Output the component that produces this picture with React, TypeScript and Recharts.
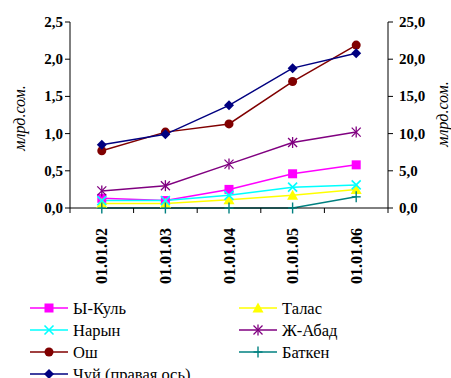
import React from "react";
import { LineChart, Line, XAxis, YAxis, Legend } from "recharts";

const categories = ["01.01.02", "01.01.03", "01.01.04", "01.01.05", "01.01.06"];
const issykKul = [0.13, 0.1, 0.25, 0.46, 0.58];
const talas = [0.06, 0.06, 0.11, 0.17, 0.25];
const naryn = [0.1, 0.1, 0.17, 0.28, 0.31];
const jalalAbad = [0.23, 0.3, 0.59, 0.88, 1.02];
const osh = [0.77, 1.02, 1.13, 1.7, 2.19];
const batken = [0, 0, 0, 0, 0.15];
const chuy = [8.5, 9.9, 13.8, 18.8, 20.8];
const leftTicks = [0, 0.5, 1, 1.5, 2, 2.5];
const rightTicks = [0, 5, 10, 15, 20, 25];

const data = categories.map((c, i) => ({
  x: i + 0.5,
  cat: c,
  issykKul: issykKul[i],
  talas: talas[i],
  naryn: naryn[i],
  jalalAbad: jalalAbad[i],
  osh: osh[i],
  batken: batken[i],
  chuy: chuy[i],
}));

const W = 451;
const H = 378;
const LEFT_W = 70;
const RIGHT_W = 63;
const BAND = (W - LEFT_W - RIGHT_W) / categories.length;
const FONT = "Liberation Serif";

type MarkerKind = "square" | "triangle" | "x" | "asterisk" | "circle" | "plus" | "diamond";

const Marker = ({ kind, cx, cy, color }: { kind: MarkerKind; cx: number; cy: number; color: string }) => {
  if (cx == null || cy == null || isNaN(cx) || isNaN(cy)) return null;
  const s = 4.5;
  switch (kind) {
    case "square":
      return <rect x={cx - s} y={cy - s} width={2 * s} height={2 * s} fill={color} />;
    case "triangle":
      return <polygon points={`${cx},${cy - s - 1} ${cx + s + 1},${cy + s} ${cx - s - 1},${cy + s}`} fill={color} />;
    case "x":
      return (
        <g stroke={color} strokeWidth={1.6}>
          <line x1={cx - s} y1={cy - s} x2={cx + s} y2={cy + s} />
          <line x1={cx - s} y1={cy + s} x2={cx + s} y2={cy - s} />
        </g>
      );
    case "asterisk":
      return (
        <g stroke={color} strokeWidth={1.3}>
          <line x1={cx - s} y1={cy - s} x2={cx + s} y2={cy + s} />
          <line x1={cx - s} y1={cy + s} x2={cx + s} y2={cy - s} />
          <line x1={cx} y1={cy - s - 1} x2={cx} y2={cy + s + 1} />
        </g>
      );
    case "circle":
      return <circle cx={cx} cy={cy} r={s} fill={color} />;
    case "plus":
      return (
        <g stroke={color} strokeWidth={1.4}>
          <line x1={cx - s} y1={cy} x2={cx + s} y2={cy} />
          <line x1={cx} y1={cy - s - 1} x2={cx} y2={cy + s + 1} />
        </g>
      );
    case "diamond":
      return <polygon points={`${cx},${cy - s - 0.5} ${cx + s + 0.5},${cy} ${cx},${cy + s + 0.5} ${cx - s - 0.5},${cy}`} fill={color} />;
  }
  return null;
};

const series: { key: string; name: string; color: string; kind: MarkerKind; axis: string }[] = [
  { key: "issykKul", name: "Ы-Куль", color: "#FF00FF", kind: "square", axis: "left" },
  { key: "talas", name: "Талас", color: "#FFFF00", kind: "triangle", axis: "left" },
  { key: "naryn", name: "Нарын", color: "#00FFFF", kind: "x", axis: "left" },
  { key: "jalalAbad", name: "Ж-Абад", color: "#800080", kind: "asterisk", axis: "left" },
  { key: "osh", name: "Ош", color: "#800000", kind: "circle", axis: "left" },
  { key: "batken", name: "Баткен", color: "#008080", kind: "plus", axis: "left" },
  { key: "chuy", name: "Чуй (правая ось)", color: "#000080", kind: "diamond", axis: "right" },
];

const fmt = (v: number) => v.toFixed(1).replace(".", ",");

const XTick = (props: any) => {
  const { x, y, payload } = props;
  const i = payload.value;
  if (i >= categories.length) return null;
  const cx = x + BAND / 2;
  const ty = y + 13;
  return (
    <text
      x={cx}
      y={ty}
      transform={`rotate(-90, ${cx}, ${ty})`}
      textAnchor="end"
      dominantBaseline="central"
      fontFamily={FONT}
      fontWeight="bold"
      fontSize={16}
      style={{ fontFamily: FONT, fontWeight: "bold", fontSize: 16 }}
      fill="#000"
    >
      {categories[i]}
    </text>
  );
};

const YTick = (side: "left" | "right") => (props: any) => {
  const { x, y, payload } = props;
  return (
    <text
      x={x}
      y={y}
      textAnchor={side === "left" ? "end" : "start"}
      dominantBaseline="central"
      fontFamily={FONT}
      fontWeight="bold"
      fontSize={15}
      style={{ fontFamily: FONT, fontWeight: "bold", fontSize: 15 }}
      fill="#000"
    >
      {fmt(payload.value)}
    </text>
  );
};

const AxisTitle = (x: number, y: number) => (props: any) => (
  <text
    x={x}
    y={y}
    transform={`rotate(-90, ${x}, ${y})`}
    textAnchor="middle"
    dominantBaseline="central"
    fontFamily={FONT}
    fontStyle="italic"
    fontSize={16}
    style={{ fontFamily: FONT, fontStyle: "italic", fontSize: 16 }}
    fill="#000"
  >
    млрд.сом.
  </text>
);

const LegendContent = () => {
  const rowH = 22;
  const colX = [30, 239];
  return (
    <svg width={W} height={88} style={{ display: "block", fontFamily: FONT }}>
      {series.map((s, i) => {
        const col = i % 2;
        const row = Math.floor(i / 2);
        const x0 = colX[col];
        const y = 18 + row * rowH;
        return (
          <g key={s.key}>
            <line x1={x0} y1={y} x2={x0 + 38} y2={y} stroke={s.color} strokeWidth={1.5} />
            <Marker kind={s.kind} cx={x0 + 19} cy={y} color={s.color} />
            <text
              x={x0 + 43}
              y={y}
              dominantBaseline="central"
              fontFamily={FONT}
              fontSize={16.5}
              style={{ fontFamily: FONT, fontSize: 16.5 }}
              fill="#000"
            >
              {s.name}
            </text>
          </g>
        );
      })}
    </svg>
  );
};

export default function App() {
  return (
    <div style={{ position: "absolute", left: 0, top: 0, width: W, height: H, background: "#fff", fontFamily: FONT }}>
      <LineChart width={W} height={H} data={data} margin={{ top: 22, right: 0, left: 0, bottom: 0 }}>
        <XAxis
          dataKey="x"
          type="number"
          domain={[0, 5]}
          ticks={[0, 1, 2, 3, 4, 5]}
          allowDataOverflow
          height={82}
          stroke="#000"
          tickSize={5}
          tick={<XTick />}
          interval={0}
        />
        <YAxis
          yAxisId="left"
          domain={[0, 2.5]}
          ticks={leftTicks}
          width={LEFT_W}
          stroke="#000"
          tickSize={5}
          tickMargin={2}
          tick={YTick("left")}
          label={{ content: AxisTitle(19, 118) }}
        />
        <YAxis
          yAxisId="right"
          orientation="right"
          domain={[0, 25]}
          ticks={rightTicks}
          width={RIGHT_W}
          stroke="#000"
          tickSize={5}
          tickMargin={6}
          tick={YTick("right")}
          label={{ content: AxisTitle(442, 114) }}
        />
        <Legend verticalAlign="bottom" height={88} content={<LegendContent />} wrapperStyle={{ left: 0, bottom: 0 }} />
        {series.map((s) => (
          <Line
            key={s.key}
            yAxisId={s.axis}
            dataKey={s.key}
            name={s.name}
            stroke={s.color}
            strokeWidth={1.5}
            isAnimationActive={false}
            dot={(p: any) => <Marker key={`${s.key}-${p.index}`} kind={s.kind} cx={p.cx} cy={p.cy} color={s.color} />}
            activeDot={false}
          />
        ))}
      </LineChart>
    </div>
  );
}
